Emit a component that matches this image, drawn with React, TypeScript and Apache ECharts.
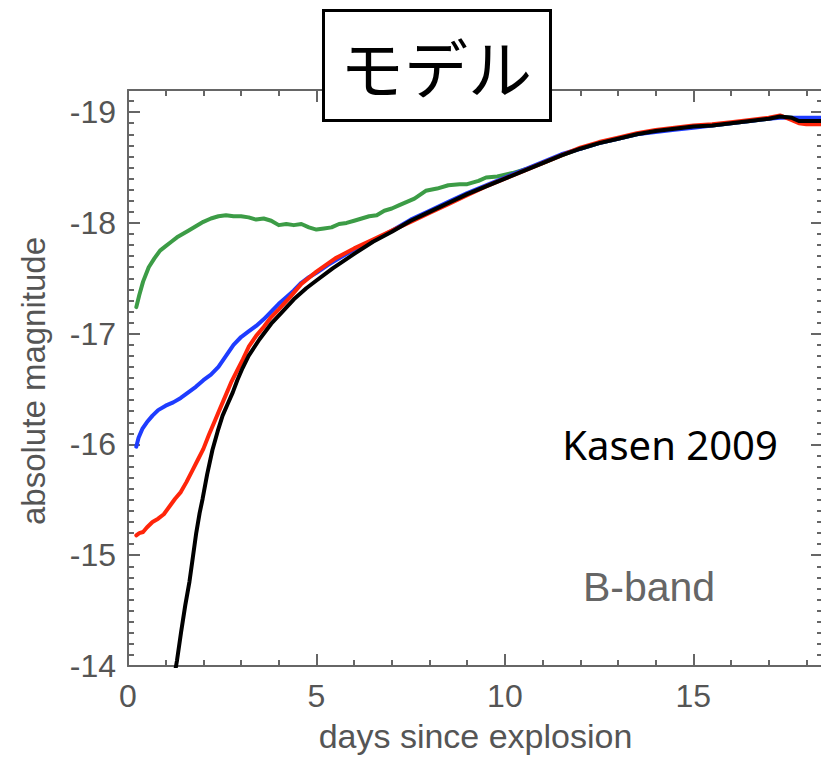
import React, { useEffect, useRef } from "react";
import * as echarts from "echarts";

// ---- data (days since explosion, absolute B magnitude) ----
const greenCurve: [number, number][] = [
  [0.22, -17.24], [0.3, -17.35], [0.4, -17.47], [0.55, -17.6], [0.7, -17.68], [0.85, -17.75],
  [1.0, -17.79], [1.15, -17.83], [1.3, -17.87], [1.45, -17.9], [1.6, -17.93], [1.8, -17.97],
  [2.0, -18.01], [2.2, -18.04], [2.4, -18.06], [2.6, -18.07], [2.8, -18.06], [3.0, -18.06],
  [3.2, -18.05], [3.4, -18.03], [3.6, -18.04], [3.8, -18.02], [4.0, -17.98], [4.2, -17.99],
  [4.4, -17.98], [4.6, -17.99], [4.8, -17.96], [5.0, -17.94], [5.2, -17.95], [5.4, -17.96],
  [5.6, -17.99], [5.8, -18.0], [6.0, -18.02], [6.2, -18.04], [6.4, -18.06], [6.6, -18.07],
  [6.8, -18.11], [7.0, -18.13], [7.2, -18.16], [7.4, -18.19], [7.6, -18.22], [7.9, -18.29],
  [8.2, -18.31], [8.5, -18.34], [8.8, -18.35], [9.0, -18.35], [9.3, -18.38], [9.5, -18.41],
  [9.8, -18.42], [10.2, -18.45], [10.6, -18.49], [11.0, -18.54], [11.5, -18.61], [12.0, -18.67],
  [12.5, -18.72], [13.0, -18.76], [13.5, -18.8], [14.0, -18.83], [14.5, -18.85], [15.0, -18.87],
  [15.5, -18.88], [16.0, -18.9], [16.5, -18.92], [17.0, -18.94], [17.3, -18.96], [17.6, -18.95],
  [18.0, -18.93], [18.44, -18.93],
];

const blueCurve: [number, number][] = [
  [0.22, -15.98], [0.28, -16.06], [0.38, -16.14], [0.5, -16.2], [0.65, -16.26], [0.8, -16.31],
  [1.0, -16.35], [1.2, -16.38], [1.4, -16.42], [1.6, -16.47], [1.8, -16.52], [2.0, -16.58],
  [2.2, -16.63], [2.4, -16.7], [2.6, -16.8], [2.8, -16.9], [3.0, -16.97], [3.2, -17.02],
  [3.4, -17.07], [3.6, -17.13], [3.8, -17.2], [4.0, -17.27], [4.2, -17.33], [4.4, -17.39],
  [4.6, -17.46], [4.8, -17.51], [5.0, -17.55], [5.3, -17.62], [5.6, -17.68], [6.0, -17.76],
  [6.5, -17.84], [7.0, -17.93], [7.5, -18.03], [8.0, -18.11], [8.5, -18.19], [9.0, -18.27],
  [9.5, -18.34], [10.0, -18.41], [10.5, -18.48], [11.0, -18.55], [11.5, -18.62], [12.0, -18.67],
  [12.5, -18.72], [13.0, -18.76], [13.5, -18.8], [14.0, -18.82], [14.5, -18.84], [15.0, -18.86],
  [15.5, -18.88], [16.0, -18.9], [16.5, -18.92], [17.0, -18.94], [17.3, -18.95], [17.6, -18.95],
  [17.8, -18.95], [18.0, -18.95], [18.44, -18.95],
];

const redCurve: [number, number][] = [
  [0.22, -15.18], [0.3, -15.2], [0.4, -15.21], [0.5, -15.25], [0.65, -15.3], [0.8, -15.33],
  [0.95, -15.37], [1.1, -15.44], [1.25, -15.51], [1.4, -15.57], [1.55, -15.66], [1.7, -15.76],
  [1.85, -15.86], [2.0, -15.96], [2.15, -16.09], [2.3, -16.21], [2.45, -16.33], [2.6, -16.45],
  [2.75, -16.57], [2.9, -16.67], [3.05, -16.77], [3.2, -16.88], [3.4, -16.98], [3.6, -17.06],
  [3.8, -17.15], [4.0, -17.22], [4.3, -17.33], [4.6, -17.45], [5.0, -17.56], [5.5, -17.68],
  [6.0, -17.77], [6.5, -17.85], [7.0, -17.93], [7.5, -18.01], [8.0, -18.09], [8.5, -18.17],
  [9.0, -18.25], [9.5, -18.33], [10.0, -18.4], [10.5, -18.47], [11.0, -18.54], [11.5, -18.61],
  [12.0, -18.68], [12.5, -18.73], [13.0, -18.77], [13.5, -18.81], [14.0, -18.84], [14.5, -18.86],
  [15.0, -18.88], [15.5, -18.89], [16.0, -18.91], [16.5, -18.93], [17.0, -18.95], [17.3, -18.97],
  [17.6, -18.93], [17.8, -18.9], [18.0, -18.89], [18.44, -18.89],
];

const blackCurve: [number, number][] = [
  [1.25, -13.95], [1.3, -14.05], [1.41, -14.31], [1.52, -14.55], [1.63, -14.76], [1.72, -14.98],
  [1.81, -15.2], [1.9, -15.38], [1.98, -15.51], [2.1, -15.73], [2.24, -15.95], [2.38, -16.12],
  [2.51, -16.26], [2.65, -16.37], [2.78, -16.47], [2.9, -16.58], [3.04, -16.69], [3.2, -16.8],
  [3.49, -16.95], [3.8, -17.09], [4.1, -17.2], [4.4, -17.31], [4.73, -17.41], [5.0, -17.48],
  [5.43, -17.59], [6.0, -17.72], [6.5, -17.83], [7.0, -17.92], [7.5, -18.02], [8.0, -18.1],
  [8.5, -18.18], [9.0, -18.26], [9.5, -18.33], [10.0, -18.4], [10.5, -18.47], [11.0, -18.54],
  [11.5, -18.61], [12.0, -18.67], [12.5, -18.72], [13.0, -18.76], [13.5, -18.8], [14.0, -18.83],
  [14.5, -18.85], [15.0, -18.87], [15.5, -18.88], [16.0, -18.9], [16.5, -18.92], [17.0, -18.94],
  [17.3, -18.96], [17.6, -18.95], [17.8, -18.92], [18.0, -18.92], [18.44, -18.92],
];

const xRange = [0, 18.44];
const yRange = [-19.2, -14];
const xMajorStep = 5;
const xMinorStep = 1;
const yMinorStep = 0.1;

const titleText = "モデル";
const xName = "days since explosion";
const yName = "absolute magnitude";
const noteText = "Kasen 2009";
const bandText = "B-band";

const AXIS = "#666";
const LABEL = "#555";
const FONT = "'Liberation Sans', Arial, sans-serif";

function xAxisDef(position: "top" | "bottom", major: boolean, withLabels: boolean) {
  return {
    type: "value",
    position,
    min: xRange[0],
    max: xRange[1],
    interval: major ? xMajorStep : xMinorStep,
    axisLine: { show: major, onZero: false, lineStyle: { color: AXIS, width: 2 } },
    axisTick: { show: true, inside: true, length: major ? 12 : 6, lineStyle: { color: AXIS, width: 2 } },
    axisLabel: {
      show: withLabels,
      showMaxLabel: false,
      color: LABEL,
      fontSize: 32,
      fontFamily: FONT,
      margin: 14,
    },
    splitLine: { show: false },
    ...(withLabels
      ? {
          name: xName,
          nameLocation: "middle",
          nameGap: 53,
          nameTextStyle: { color: LABEL, fontSize: 34, fontFamily: FONT },
        }
      : {}),
  };
}

function yAxisDef(position: "left" | "right", major: boolean, withLabels: boolean) {
  return {
    type: "value",
    position,
    inverse: true,
    min: yRange[0],
    max: yRange[1],
    ...(major ? { minInterval: 1, maxInterval: 1 } : { interval: yMinorStep }),
    axisLine: { show: major, onZero: false, lineStyle: { color: AXIS, width: 2 } },
    axisTick: { show: true, inside: true, length: major ? 12 : 6, lineStyle: { color: AXIS, width: 2 } },
    axisLabel: {
      show: withLabels,
      showMinLabel: false,
      color: LABEL,
      fontSize: 32,
      fontFamily: FONT,
      margin: 12,
    },
    splitLine: { show: false },
  };
}

function lineSeries(name: string, data: [number, number][], color: string, z: number) {
  return {
    name,
    type: "line",
    data,
    xAxisIndex: 0,
    yAxisIndex: 0,
    showSymbol: false,
    symbol: "none",
    smooth: false,
    clip: true,
    z,
    lineStyle: { color, width: 4, join: "round", cap: "round" },
  };
}

export default function App() {
  const ref = useRef<HTMLDivElement>(null);
  useEffect(() => {
    if (!ref.current) return;
    const chart = echarts.init(ref.current, null, { renderer: "svg" });
    chart.setOption({
      animation: false,
      backgroundColor: "#fff",
      textStyle: { fontFamily: FONT },
      grid: { left: 128, top: 90, width: 695, height: 582, containLabel: false },
      xAxis: [
        xAxisDef("bottom", true, true),
        xAxisDef("bottom", false, false),
        xAxisDef("top", true, false),
        xAxisDef("top", false, false),
      ],
      yAxis: [
        yAxisDef("left", true, true),
        yAxisDef("left", false, false),
        yAxisDef("right", true, false),
        yAxisDef("right", false, false),
      ],
      series: [
        lineSeries("green", greenCurve, "#3c9c46", 2),
        lineSeries("blue", blueCurve, "#1e3cff", 3),
        lineSeries("red", redCurve, "#ff250a", 4),
        lineSeries("black", blackCurve, "#000000", 5),
      ],
      graphic: [
        {
          type: "text",
          x: 33,
          y: 381,
          rotation: Math.PI / 2,
          style: {
            text: yName,
            fill: LABEL,
            font: `33px ${FONT}`,
            textAlign: "center",
            textVerticalAlign: "middle",
          },
        },
        {
          type: "text",
          x: 670,
          y: 444,
          style: {
            text: noteText,
            fill: "#000",
            font: "40px 'Noto Sans', sans-serif",
            textAlign: "center",
            textVerticalAlign: "middle",
          },
        },
        {
          type: "text",
          x: 649,
          y: 587,
          style: {
            text: bandText,
            fill: "#666",
            font: `41px ${FONT}`,
            textAlign: "center",
            textVerticalAlign: "middle",
          },
        },
        {
          type: "group",
          z: 100,
          children: [
            {
              type: "rect",
              shape: { x: 323.5, y: 10.5, width: 227, height: 110 },
              style: { fill: "#fff", stroke: "#000", lineWidth: 3 },
              z: 100,
            },
            {
              type: "text",
              x: 436,
              y: 65,
              z: 101,
              style: {
                text: titleText,
                fill: "#000",
                font: "64px 'Noto Sans CJK JP', sans-serif",
                textAlign: "center",
                textVerticalAlign: "middle",
              },
            },
          ],
        },
      ],
    });
    return () => chart.dispose();
  }, []);
  return (
    <div
      style={{
        position: "fixed",
        left: 0,
        top: 0,
        width: 821,
        height: 758,
        overflow: "hidden",
        background: "#fff",
      }}
    >
      <div ref={ref} style={{ width: 830, height: 758 }} />
    </div>
  );
}
